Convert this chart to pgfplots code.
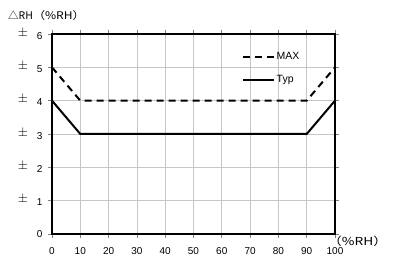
\documentclass[border=0pt]{standalone}
\usepackage{pgfplots}
\pgfplotsset{compat=1.18}
\usepackage{fontspec}
\setmainfont{Liberation Sans}
\newfontfamily\cjk{Noto Sans CJK JP}
\begin{document}
\begin{tikzpicture}
\begin{axis}[name=ax,
  scale only axis, width=283pt, height=200pt,
  xmin=0, xmax=100, ymin=0, ymax=6,
  xtick={0,10,...,100}, ytick={0,1,...,6},
  yticklabel={\ifnum\ticknum=0 \else\raisebox{3pt}{\scalebox{1.3}{$\pm$}}\fi\hspace{9pt}\pgfmathprintnumber{\tick}},
  /pgf/number format/assume math mode=true,
  ticklabel style={font=\fontsize{10}{11}\selectfont},
  xticklabel style={yshift=-6pt},
  yticklabel style={xshift=-2pt},
  grid=major, major grid style={gray!45, line width=0.6pt},
  axis line style={line width=2.3pt},
  tick style={gray, line width=0.6pt}, tick align=outside, major tick length=4pt,
  legend style={draw=none, fill=none, at={(rel axis cs:0.668,0.92)}, anchor=north west,
    font=\fontsize{10.5}{11}\selectfont, row sep=11pt, inner sep=1pt,
    nodes={inner sep=1.5pt}},
  legend cell align=left,
  legend image code/.code={\draw[#1] (0pt,0pt) -- (31pt,0pt);},
]
\addplot[black, line width=2pt, dash pattern=on 7pt off 5pt] coordinates {(0,5) (10,4) (90,4) (100,5)};
\addlegendentry{MAX}
\addplot[black, line width=2pt] coordinates {(0,4) (10,3) (90,3) (100,4)};
\addlegendentry{Typ}
\end{axis}
\node[anchor=west, font=\cjk\fontsize{10.5}{11}\selectfont, inner sep=0pt] at ([xshift=-44pt, yshift=18pt]ax.north west) {△RH\scalebox{1.15}[1]{（\%RH）}};
\node[anchor=west, font=\cjk\fontsize{11}{12}\selectfont, inner sep=0pt] at ([xshift=-7pt, yshift=-7pt]ax.south east) {\scalebox{1.25}[1]{（\%RH）}};
\pgfresetboundingbox
\path ([xshift=-52pt, yshift=-32pt]ax.south west) rectangle ([xshift=62pt, yshift=34pt]ax.north east);
\end{tikzpicture}
\end{document}
